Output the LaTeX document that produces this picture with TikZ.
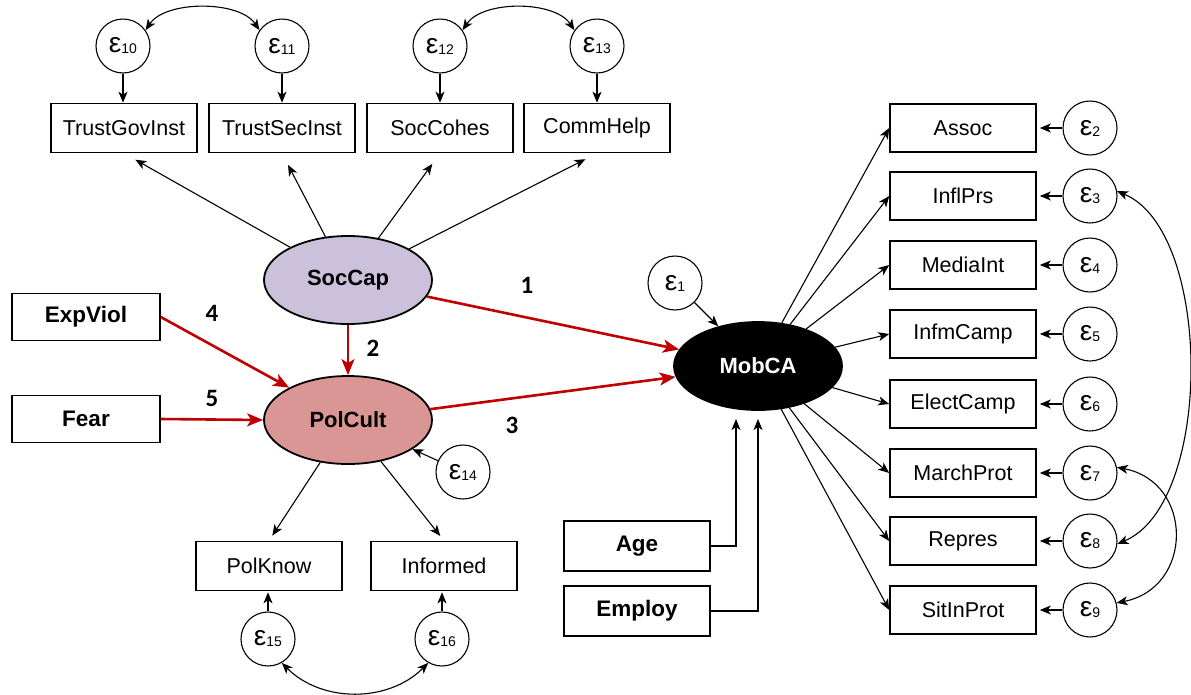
\documentclass[tikz,border=0pt]{standalone}
\usepackage{fontspec}
\setmainfont{Liberation Sans}
\newfontfamily\numfont{Carlito}
\usetikzlibrary{arrows.meta,shapes.geometric,calc}

\definecolor{lav}{HTML}{CCC1DA}
\definecolor{rose}{HTML}{D99694}
\definecolor{pathred}{HTML}{C00000}

% error term label: epsilon with a small index
\newcommand\epsl[1]{{\fontsize{28}{28}\selectfont ε}\raisebox{-1pt}{\fontsize{14}{14}\selectfont #1}}

\tikzset{
  obs/.style={draw, line width=1.6pt, minimum width=146pt, minimum height=49pt,
    inner sep=0pt, font=\fontsize{21.5}{24}\selectfont},
  obsb/.style={obs, minimum width=148pt, minimum height=47pt,
    font=\bfseries\fontsize{22.5}{25}\selectfont},
  lat/.style={ellipse, draw, line width=1.8pt, minimum width=168pt,
    minimum height=88pt, inner sep=0pt, font=\bfseries\fontsize{22}{25}\selectfont},
  err/.style={circle, draw, line width=1.1pt, minimum size=54pt, inner sep=0pt},
  arr/.style={-{Stealth[length=11pt,width=9pt,inset=3pt]}, line width=1.1pt},
  redarr/.style={-{Stealth[length=16pt,width=13pt,inset=4pt]}, line width=2.6pt, draw=pathred},
  cov/.style={{Stealth[length=11pt,width=9pt,inset=3pt]}-{Stealth[length=11pt,width=9pt,inset=3pt]}, line width=1.1pt},
  coef/.style={font=\numfont\bfseries\fontsize{25}{27}\selectfont}
}

\begin{document}
\begin{tikzpicture}[x=1pt,y=-1pt]
\useasboundingbox (0,0) rectangle (1191,694);

% ---- Social capital block (top) ----
\node[err] (e10) at (123,46) {\epsl{10}};
\node[err] (e11) at (282,46) {\epsl{11}};
\node[err] (e12) at (440,46) {\epsl{12}};
\node[err] (e13) at (597,46) {\epsl{13}};

\node[obs] (tgi) at (124,128) {TrustGovInst};
\node[obs] (tsi) at (282,128) {TrustSecInst};
\node[obs] (sch) at (440,128) {SocCohes};
\node[obs] (chp) at (597,128) {CommHelp};

\node[lat, fill=lav] (soc) at (348,280) {SocCap};
\node[lat, fill=rose] (pol) at (348,420) {PolCult};
\node[lat, fill=black, text=white] (mob) at (758,366) {MobCA};

\node[obsb] (exv) at (86,317) {ExpViol};
\node[obsb] (fear) at (86,419) {Fear};

\node[err] (e14) at (463,472) {\epsl{14}};
\node[err] (e1) at (675,283) {\epsl{1}};

\node[obs] (pkn) at (269,566) {PolKnow};
\node[obs] (inf) at (444,566) {Informed};
\node[err] (e15) at (268,639) {\epsl{15}};
\node[err] (e16) at (442,639) {\epsl{16}};

\node[obsb, minimum width=146pt, minimum height=50pt] (age) at (637,546) {Age};
\node[obsb, minimum width=146pt, minimum height=50pt] (emp) at (637,611) {Employ};
\coordinate (agetip) at (736,419);
\coordinate (emptip) at (758,419);

% ---- Mobilisation indicators (right) ----
\foreach \nm/\txt/\yy/\k in {
  assoc/Assoc/128/2, infl/InflPrs/196/3, media/MediaInt/265/4,
  infm/InfmCamp/334/5, elect/ElectCamp/404/6, march/MarchProt/473/7,
  repr/Repres/541/8, sitin/SitInProt/610/9}{
  \node[obs, minimum height=48pt] (\nm) at (963,\yy) {\txt};
  \node[err] (e\k) at (1090,\yy) {\epsl{\k}};
  \draw[arr, shorten >=3pt] (e\k.west) -- (\nm.east);
  \draw[arr] (mob) -- (\nm.west);
}

% ---- loadings ----
\draw[arr, shorten >=13pt] (soc) -- (tgi.south);
\draw[arr, shorten >=13pt] (soc) -- (tsi.south);
\draw[arr, shorten >=13pt] (soc) -- (sch.south);
\draw[arr, shorten >=13pt] (soc) -- (chp.south);
\foreach \e/\b in {e10/tgi, e11/tsi, e12/sch, e13/chp}
  \draw[arr] (\e.south) -- (\e.south |- \b.north);

\draw[arr, shorten >=6pt] (pol) -- (pkn.north);
\draw[arr, shorten >=6pt] (pol) -- (inf.north);
\draw[arr, shorten >=1pt] (e15.north) -- (e15.north |- pkn.south);
\draw[arr, shorten >=1pt] (e16.north) -- (e16.north |- inf.south);

\draw[arr] (e14) -- (pol);
\draw[arr] (e1) -- (mob);

% ---- covariances ----
\draw[cov] (e10.35) .. controls +(20,-30) and +(-20,-30) .. (e11.145);
\draw[cov] (e12.35) .. controls +(20,-30) and +(-20,-30) .. (e13.145);
\draw[cov] (e15.-60) .. controls +(40,40) and +(-40,40) .. (e16.-120);
\draw[cov] (e3.10) .. controls +(96,40) and +(96,-40) .. (e8.-6);
\draw[cov] (e7.12) .. controls +(77,15) and +(77,-15) .. (e9.15);

% ---- controls ----
\draw[arr] (age.east) -| (agetip);
\draw[arr] (emp.east) -| (emptip);

% ---- structural paths ----
\draw[redarr] (soc) -- (mob);
\draw[redarr] (soc) -- (pol);
\draw[redarr] (pol) -- (mob);
\draw[redarr] (exv.east) -- (pol);
\draw[redarr] (fear.east) -- (pol.west);

\node[coef] (c1) at (527,285) {1};
\node[coef] (c2) at (373,348) {2};
\node[coef] (c3) at (512,425) {3};
\node[coef] (c4) at (212,313) {4};
\node[coef] (c5) at (212,398) {5};
\end{tikzpicture}
\end{document}
